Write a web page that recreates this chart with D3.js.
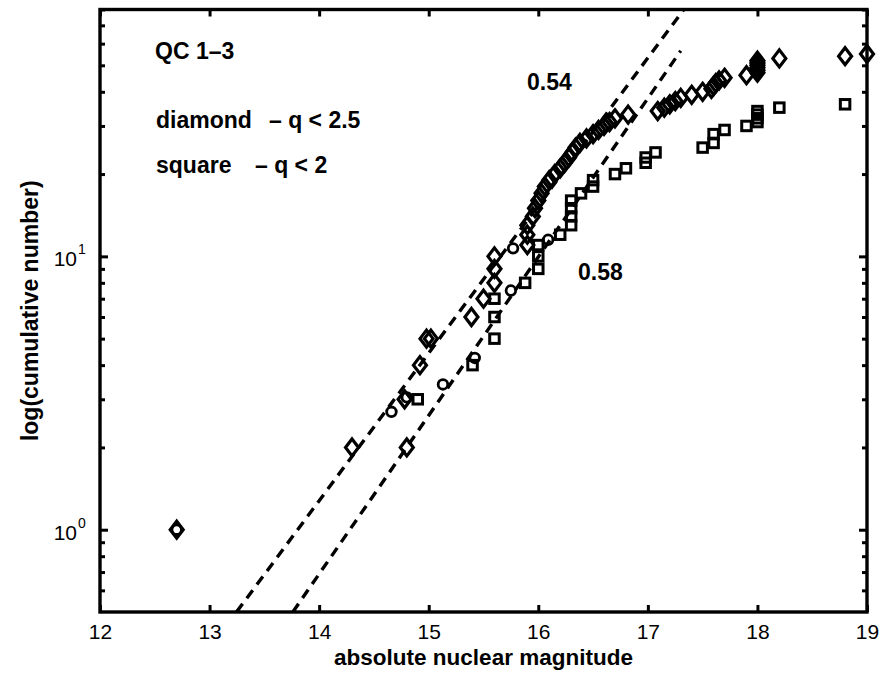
<!DOCTYPE html>
<html><head><meta charset="utf-8">
<script src="https://cdn.jsdelivr.net/npm/d3@7"></script>
<style>body{margin:0;background:#fff}svg{display:block}</style>
</head><body><svg id="c" width="884" height="673"></svg>
<script>
// ---- data ----
const diamondMag = [12.7,14.3,14.78,14.8,14.92,14.98,15.02,15.39,15.5,15.6,15.6,15.6,15.9,15.9,15.9,15.95,15.97,16.0,16.03,16.06,16.1,16.15,16.2,16.24,16.28,16.31,16.34,16.38,16.44,16.5,16.55,16.6,16.65,16.7,16.82,17.09,17.15,17.2,17.25,17.3,17.4,17.5,17.58,17.6,17.62,17.65,17.7,17.9,18.0,18.0,18.0,18.0,18.0,18.0,18.2,18.8,19.0];
const diamondN   = [1,2,3,2,4,5,5,6,7,8,9,10,11,12,13,14,15,16,17,18,19,20,21,22,23,24,25,26,27,28,29,30,31,32,33,34,35,36,37,38,39,40,41,42,43,44,45,46,47,48,49,50,51,52,53,54,55];
const squareMag = [14.9,15.4,15.6,15.6,15.6,15.88,16.0,16.0,16.0,16.2,16.3,16.3,16.3,16.3,16.39,16.5,16.5,16.7,16.8,16.98,16.98,17.07,17.5,17.6,17.6,17.7,17.9,18.0,18.0,18.0,18.0,18.2,18.8];
const squareN   = [3,4,5,6,7,8,9,10,11,12,13,14,15,16,17,18,19,20,21,22,23,24,25,26,28,29,30,31,32,33,34,35,36];
const circleMag = [12.7,14.66,14.8,15.13,15.42,15.75,15.77,16.09];
const circleN   = [1,2.7,3.05,3.4,4.25,7.5,10.7,11.5];
// power-law fits: log10(N) = intercept + slope * m
const fitSlope = [0.54, 0.58];
const fitIntercept = [-7.454, -8.282];
const fitStart = [13.247, 13.76];
const fitEnd = [17.33, 17.3];
const fitLabels = ["0.54", "0.58"];
const xTicks = [12,13,14,15,16,17,18,19];
const yMajorTicks = [1,10];
const yMinorTicks = [0.6,0.7,0.8,0.9,2,3,4,5,6,7,8,9,20,30,40,50,60,70,80];
const yTickExp = ["0","1"];

// ---- layout ----
const svg = d3.select("#c");
const L = 100, R = 867, T = 9.5, B = 612;
const x = d3.scaleLinear().domain([12,19]).range([L,R]);
const y = d3.scaleLog().domain([0.5,80]).range([B,T]);
const font = "'Liberation Sans', Arial, Helvetica, sans-serif";

svg.append("rect").attr("width",884).attr("height",673).attr("fill","#fff");

// fit lines
const fitData = fitSlope.map((s,i)=>({s, a:fitIntercept[i], m0:fitStart[i], m1:fitEnd[i]}));
const line = d3.line().x(d=>x(d[0])).y(d=>y(d[1]));
svg.selectAll("path.fit").data(fitData).join("path")
  .attr("class","fit")
  .attr("d", d => line([d.m0, d.m1].map(m => [m, Math.pow(10, d.a + d.s*m)])))
  .attr("fill","none").attr("stroke","#000").attr("stroke-width",3.4)
  .attr("stroke-dasharray","10,7");

// markers
const dw = 6.5, dh = 8.5;
const diamonds = diamondMag.map((m,i)=>[m, diamondN[i]]);
svg.append("g").selectAll("path").data(diamonds).join("path")
  .attr("transform", d=>`translate(${x(d[0])},${y(d[1])})`)
  .attr("d", `M0,${-dh}L${dw},0L0,${dh}L${-dw},0Z`)
  .attr("fill","none").attr("stroke","#000").attr("stroke-width",3.2);

const sq = 9.5;
const squares = squareMag.map((m,i)=>[m, squareN[i]]);
svg.append("g").selectAll("rect").data(squares).join("rect")
  .attr("x", d=>x(d[0])-sq/2).attr("y", d=>y(d[1])-sq/2)
  .attr("width",sq).attr("height",sq)
  .attr("fill","none").attr("stroke","#000").attr("stroke-width",3);

const circles = circleMag.map((m,i)=>[m, circleN[i]]);
svg.append("g").selectAll("circle").data(circles).join("circle")
  .attr("cx", d=>x(d[0])).attr("cy", d=>y(d[1])).attr("r",4.8)
  .attr("fill","none").attr("stroke","#000").attr("stroke-width",2.8);

// axes (Matlab-style inward ticks)
const gB = svg.append("g").attr("transform",`translate(0,${B})`)
  .call(d3.axisBottom(x).tickValues(xTicks).tickSize(-7).tickPadding(12).tickFormat(d3.format("d")));
const gT = svg.append("g").attr("transform",`translate(0,${T})`)
  .call(d3.axisTop(x).tickValues(xTicks).tickSize(-7).tickFormat(""));
const gL = svg.append("g").attr("transform",`translate(${L},0)`)
  .call(d3.axisLeft(y).tickValues(yMajorTicks).tickSize(-8).tickFormat(""));
const gLm = svg.append("g").attr("transform",`translate(${L},0)`)
  .call(d3.axisLeft(y).tickValues(yMinorTicks).tickSize(-5).tickFormat(""));
const gR = svg.append("g").attr("transform",`translate(${R},0)`)
  .call(d3.axisRight(y).tickValues(yMajorTicks).tickSize(-8).tickFormat(""));
const gRm = svg.append("g").attr("transform",`translate(${R},0)`)
  .call(d3.axisRight(y).tickValues(yMinorTicks).tickSize(-5).tickFormat(""));
[gB,gT,gL,gLm,gR,gRm].forEach(g=>{
  g.select(".domain").remove();
  g.selectAll(".tick line").attr("stroke","#000").attr("stroke-width",3);
});
gB.selectAll(".tick text").attr("font-family",font).attr("font-size",21).attr("fill","#000");

// y tick labels 10^k
const yl = svg.append("g").selectAll("g").data(yMajorTicks).join("g")
  .attr("transform", d=>`translate(0,${y(d)})`);
yl.append("text").attr("x",77).attr("y",10).attr("text-anchor","end")
  .attr("font-family",font).attr("font-size",21).text("10");
yl.append("text").attr("x",78).attr("y",-2)
  .attr("font-family",font).attr("font-size",14).text((d,i)=>yTickExp[i]);

// frame
svg.append("rect").attr("x",L).attr("y",T).attr("width",R-L).attr("height",B-T)
  .attr("fill","none").attr("stroke","#000").attr("stroke-width",3.4);

// axis titles
svg.append("text").attr("x",(L+R)/2).attr("y",665).attr("text-anchor","middle")
  .attr("font-family",font).attr("font-weight","bold").attr("font-size",22.5)
  .text("absolute nuclear magnitude");
svg.append("text").attr("transform",`translate(38,${(T+B)/2}) rotate(-90)`)
  .attr("text-anchor","middle")
  .attr("font-family",font).attr("font-weight","bold").attr("font-size",23)
  .text("log(cumulative number)");

// annotations
const ann = [
  {t:"QC 1\u20133", px:155, py:59},
  {t:"diamond", px:156, py:128},
  {t:"\u2013 q < 2.5", px:269, py:128},
  {t:"square", px:156, py:173},
  {t:"\u2013 q < 2", px:255, py:173},
  {t:fitLabels[0], px:527, py:90},
  {t:fitLabels[1], px:578, py:280}
];
svg.append("g").selectAll("text").data(ann).join("text")
  .attr("x",d=>d.px).attr("y",d=>d.py)
  .attr("font-family",font).attr("font-weight","bold").attr("font-size",23)
  .attr("fill","#000").text(d=>d.t);
</script>
</body></html>
